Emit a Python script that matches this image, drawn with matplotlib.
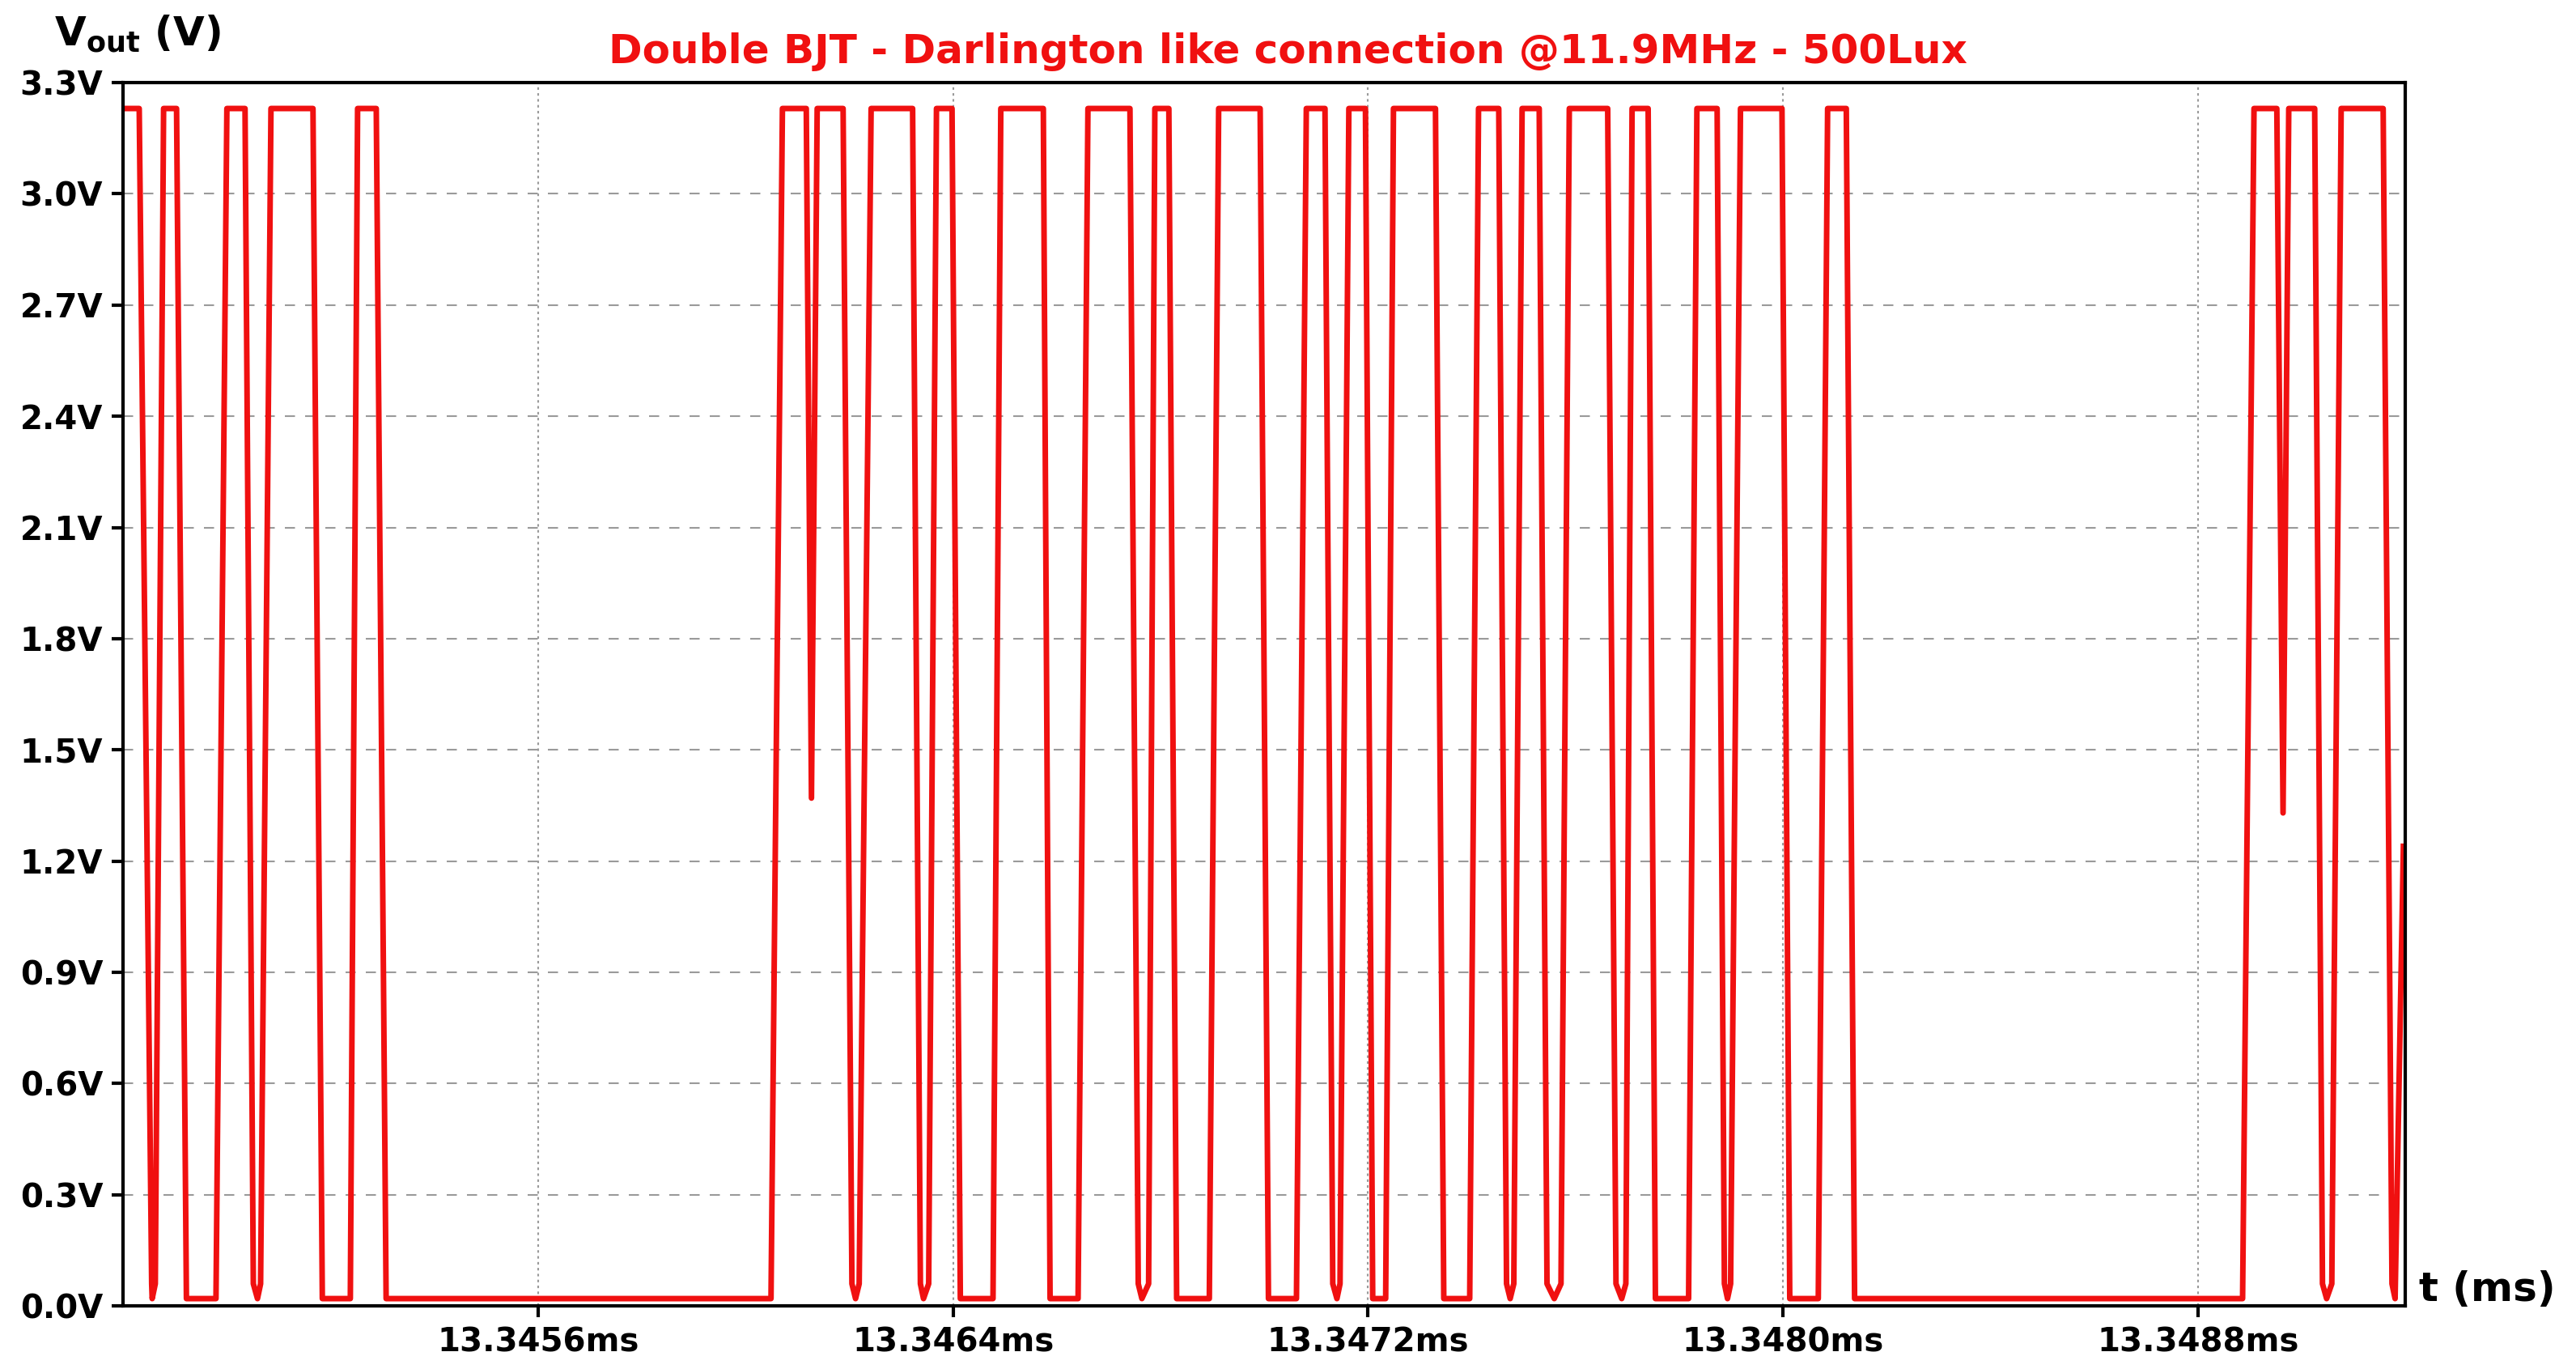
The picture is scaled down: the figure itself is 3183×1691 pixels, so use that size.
import matplotlib
matplotlib.use("Agg")
import matplotlib.pyplot as plt
import numpy as np

# time in ns after 13.3448 ms, voltage in V
t_ns = [0, 31, 55, 56, 62, 78, 103, 122, 179, 200, 235, 251, 259, 265, 285, 366, 384, 438, 452, 488, 507,
        1249, 1271, 1317, 1327, 1338, 1388, 1405, 1412, 1419, 1442, 1522, 1537, 1543, 1553, 1568, 1598, 1614,
        1677, 1692, 1774, 1787, 1841, 1860, 1941, 1957, 1964, 1977, 1989, 2016, 2031, 2094, 2112, 2192, 2208,
        2262, 2281, 2317, 2332, 2340, 2346, 2363, 2395, 2409, 2434, 2449, 2530, 2546, 2596, 2613, 2652, 2667,
        2674, 2681, 2697, 2730, 2745, 2759, 2772, 2788, 2862, 2878, 2889, 2897, 2909, 2940, 2954, 3018, 3034,
        3073, 3087, 3093, 3099, 3118, 3198, 3213, 3268, 3286, 3322, 3338, 4086, 4108, 4152, 4164, 4175, 4225,
        4240, 4248, 4258, 4276, 4357, 4374, 4380, 4396]
H, L, C = 3.23, 0.02, 0.06
v_out = [H, H, C, L, C, H, H, L, L, H, H, C, L, C, H, H, L, L, H, H, L,
         L, H, H, 1.37, H, H, C, L, C, H, H, C, L, C, H, H, L,
         L, H, H, L, L, H, H, C, L, C, H, H, L, L, H, H, L,
         L, H, H, C, L, C, H, H, L, L, H, H, L, L, H, H, C,
         L, C, H, H, C, L, C, H, H, C, L, C, H, H, L, L, H,
         H, C, L, C, H, H, L, L, H, H, L, L, H, H, 1.33, H, H,
         C, L, C, H, H, C, L, 1.24]

t_start_ms = 13.3448
xtick_ns = [800, 1600, 2400, 3200, 4000]
xtick_labels = ["13.3456ms", "13.3464ms", "13.3472ms", "13.3480ms", "13.3488ms"]
ytick_vals = [0.0, 0.3, 0.6, 0.9, 1.2, 1.5, 1.8, 2.1, 2.4, 2.7, 3.0, 3.3]

fig = plt.figure(figsize=(31.83, 16.91), dpi=100)
ax = fig.add_axes([0.0478, 0.046, 0.886, 0.8937])
ax.plot(t_ns, v_out, color="#f01010", lw=5, solid_joinstyle="round")
ax.set_xlim(0, 4400)
ax.set_ylim(0, 3.3)
ax.set_xticks(xtick_ns)
ax.set_xticklabels(xtick_labels, fontsize=29, fontweight="bold")
ax.set_yticks(ytick_vals)
ax.set_yticklabels([f"{v:.1f}V" for v in ytick_vals], fontsize=29, fontweight="bold")
ax.tick_params(axis="both", length=10, width=3, direction="out", pad=8)
ax.grid(axis="y", color="#9a9a9a", ls=(0, (6, 6)), lw=1.5)
ax.grid(axis="x", color="#9a9a9a", ls=(0, (1.5, 2)), lw=1.5)
for s in ax.spines.values():
    s.set_linewidth(3)
fig.text(0.5, 0.962, "Double BJT - Darlington like connection @11.9MHz - 500Lux",
         color="#f01010", fontsize=36, fontweight="bold", ha="center", va="center")
fig.text(0.021, 0.975, r"$\mathbf{V_{out}}$ (V)", fontsize=36, fontweight="bold", ha="left", va="center")
fig.text(0.939, 0.058, "t (ms)", fontsize=36, fontweight="bold", ha="left", va="center")
fig.savefig("out.png", dpi=100)
